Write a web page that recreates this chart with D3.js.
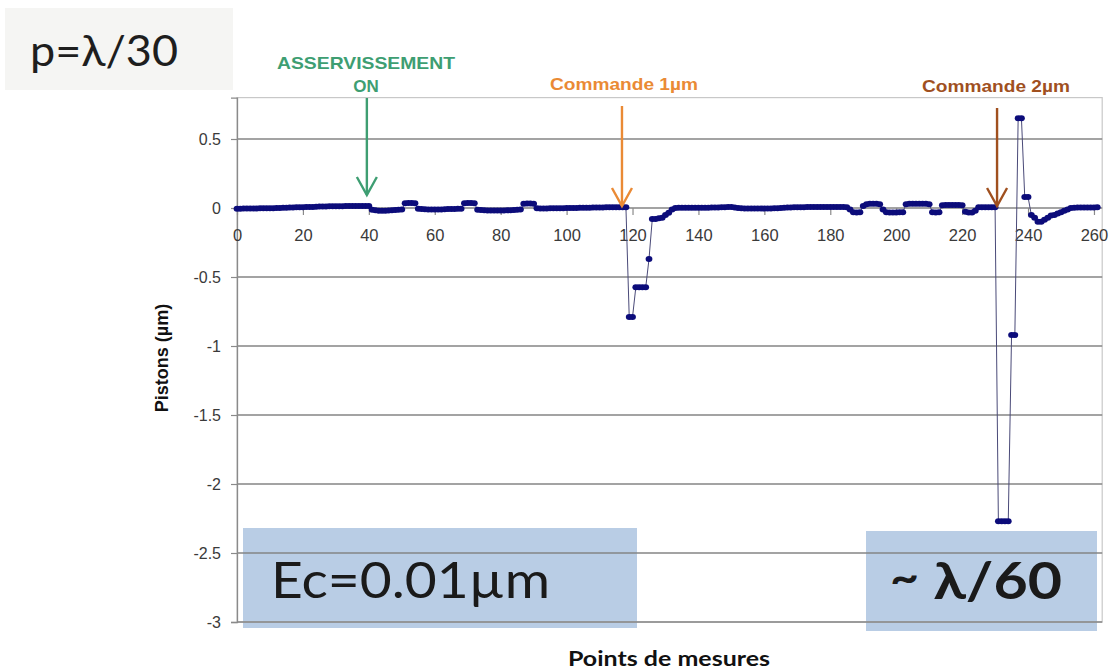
<!DOCTYPE html>
<html><head><meta charset="utf-8">
<script src="https://cdn.jsdelivr.net/npm/d3@7"></script>
<style>body{margin:0;background:#fff;} svg{display:block;}</style>
</head><body><svg id="c" width="1116" height="671"></svg>
<script>
// Piston values (µm) at each measurement point 0..261
const pistonValues = [
 -0.005,-0.005,-0.004,-0.004,-0.003,-0.003,-0.003,-0.002,-0.002,-0.002,
 -0.001,-0.001,0,0,0.001,0.002,0.003,0.004,0.005,0.005,
 0.006,0.007,0.008,0.008,0.009,0.010,0.010,0.011,0.012,0.012,
 0.013,0.013,0.013,0.014,0.014,0.014,0.015,0.015,0.015,0.015,
 0.015,-0.012,-0.017,-0.02,-0.02,-0.02,-0.018,-0.016,-0.015,-0.012,
 -0.01,0.035,0.036,0.036,0.035,-0.005,-0.008,-0.009,-0.01,-0.01,
 -0.01,-0.01,-0.01,-0.009,-0.008,-0.008,-0.007,-0.006,-0.005,0.035,
 0.036,0.036,0.034,-0.012,-0.015,-0.017,-0.018,-0.018,-0.018,-0.018,
 -0.018,-0.018,-0.017,-0.016,-0.015,-0.013,-0.01,0.03,0.032,0.032,
 0.03,-0.002,-0.003,-0.003,-0.003,-0.002,-0.002,-0.002,-0.001,-0.001,
 0,0,0,0,0.001,0.001,0.002,0.002,0.003,0.003,
 0.004,0.004,0.005,0.005,0.006,0.006,0.006,0.006,0.005,-0.79,
 -0.79,-0.575,-0.575,-0.575,-0.575,-0.37,-0.08,-0.08,-0.075,-0.07,
 -0.05,-0.035,-0.01,0,0.002,0.002,0.002,0.002,0.002,0.002,
 0.002,0.002,0.002,0.002,0.003,0.003,0.004,0.005,0.006,0.007,
 0.008,0.004,0,-0.002,-0.003,-0.004,-0.004,-0.004,-0.004,-0.004,
 -0.004,-0.003,-0.003,-0.002,-0.001,0,0.002,0.003,0.004,0.005,
 0.005,0.006,0.006,0.007,0.007,0.007,0.007,0.007,0.007,0.007,
 0.007,0.007,0.007,0.007,0.007,0.006,-0.01,-0.03,-0.032,-0.03,
 0.015,0.028,0.03,0.03,0.03,0.028,-0.01,-0.03,-0.032,-0.032,
 -0.032,-0.03,-0.03,0.027,0.03,0.03,0.03,0.03,0.03,0.03,
 0.028,-0.03,-0.032,-0.03,0.02,0.022,0.022,0.022,0.022,0.022,
 0.02,-0.028,-0.032,-0.032,-0.02,0.005,0.006,0.006,0.006,0.006,
 0.006,-2.27,-2.27,-2.27,-2.27,-0.92,-0.92,0.65,0.65,0.08,
 0.08,-0.05,-0.07,-0.1,-0.1,-0.085,-0.07,-0.055,-0.05,-0.04,
 -0.03,-0.02,-0.01,0,0.002,0.003,0.003,0.003,0.003,0.003,
 0.004,0.005
];
const measurePoints = d3.range(pistonValues.length);
const xTickValues = [0,20,40,60,80,100,120,140,160,180,200,220,240,260];
const yTickValues = [-3,-2.5,-2,-1.5,-1,-0.5,0,0.5];
const eventAt = [39.4, 116.8, 230.6];
const eventText = [["ASSERVISSEMENT","ON"],["Commande 1µm"],["Commande 2µm"]];
const eventColors = ["#3e9e72","#ea8a35","#a0501f"];
const xTitle = "Points de mesures";
const yTitle = "Pistons (µm)";
const stepLabel = "p=λ/30";
const stdLabel = "Ec=0.01µm";
const ratioLabel = ["~", " λ/60"];

const svg = d3.select("#c");
const x = d3.scaleLinear().domain([0, 262.5]).range([237, 237 + 262.5*3.296]);
const y = d3.scaleLinear().domain([-3, 0.8]).range([622, 622 - 3.8*138]);
const X0 = x(0), X1 = x(262.5), Y0 = y(-3), Y1 = y(0.8);
const SANS = "Arial, 'Liberation Sans', sans-serif";
const CAL = "Lato, 'Open Sans', sans-serif";

// top-left grey label box
svg.append("rect").attr("x",5).attr("y",8).attr("width",228).attr("height",82).attr("fill","#f5f5f3");
svg.append("text").attr("x",30).attr("y",66).attr("font-family",CAL)
  .attr("font-size",42).attr("fill","#1e1e1e").attr("textLength",148).attr("lengthAdjust","spacingAndGlyphs").text(stepLabel);

// blue boxes (below grid)
svg.append("rect").attr("x",243).attr("y",528).attr("width",394).attr("height",100).attr("fill","#b9cde5");
svg.append("rect").attr("x",866).attr("y",531).attr("width",231).attr("height",100).attr("fill","#b9cde5");

// plot frame
svg.append("rect").attr("x",X0).attr("y",Y1).attr("width",X1-X0).attr("height",Y0-Y1)
  .attr("fill","none").attr("stroke","#c8c8c8").attr("stroke-width",1.2);

// grid
svg.append("g").selectAll("line").data(yTickValues).join("line")
  .attr("x1",X0).attr("x2",X1).attr("y1",d=>y(d)).attr("y2",d=>y(d))
  .attr("stroke","#858585").attr("stroke-width",1.4);

// y axis
const yAxis = svg.append("g").attr("transform",`translate(${X0},0)`)
  .call(d3.axisLeft(y).tickValues(yTickValues).tickSize(6).tickPadding(10).tickFormat(d=>String(d)));
yAxis.select(".domain").attr("stroke","#8a8a8a").attr("stroke-width",1.3);
yAxis.selectAll(".tick line").attr("stroke","#8a8a8a").attr("stroke-width",1.2);
yAxis.selectAll("text").attr("font-family",SANS).attr("font-size",16).attr("fill","#3a3a3a");

// x axis at y=0
const xAxis = svg.append("g").attr("transform",`translate(0,${y(0)})`)
  .call(d3.axisBottom(x).tickValues(xTickValues).tickSize(7).tickPadding(14).tickFormat(d=>String(d)));
xAxis.select(".domain").remove();
xAxis.selectAll(".tick line").attr("stroke","#8a8a8a").attr("stroke-width",1.2);
xAxis.selectAll("text").attr("font-family",SANS).attr("font-size",16.5).attr("fill","#3a3a3a");

// series
const line = d3.line().x((d,i)=>x(measurePoints[i])).y(d=>y(d));
svg.append("path").datum(pistonValues).attr("d",line).attr("fill","none")
  .attr("stroke","#4a4a78").attr("stroke-width",1);
svg.append("g").selectAll("ellipse").data(pistonValues).join("ellipse")
  .attr("cx",(d,i)=>x(measurePoints[i])).attr("cy",d=>y(d)).attr("rx",3.4).attr("ry",3)
  .attr("fill","#0c0c7a");

// event arrows & labels
const arrowTop = [98, 106, 108];
const labelY = [[69,92],[90],[92]];
const labelX = [366, 624, 996];
const labelW = [[178,null],[148],[148]];
eventAt.forEach((ev,k)=>{
  const ax = x(ev), tip = y(0) - (k===0?13:2);
  const g = svg.append("g").attr("stroke",eventColors[k]).attr("fill","none").attr("stroke-width",2.4);
  g.append("line").attr("x1",ax).attr("x2",ax).attr("y1",arrowTop[k]).attr("y2",tip);
  g.append("path").attr("d",`M${ax-10},${tip-18}L${ax},${tip}L${ax+10},${tip-18}`);
  eventText[k].forEach((t,j)=>{
    const tx = svg.append("text").attr("x",labelX[k]).attr("y",labelY[k][j])
      .attr("text-anchor","middle").attr("font-family",SANS)
      .attr("font-weight","bold").attr("font-size",17).attr("fill",eventColors[k]).text(t);
    if (labelW[k][j]) tx.attr("textLength",labelW[k][j]).attr("lengthAdjust","spacingAndGlyphs");
  });
});

// axis titles
svg.append("text").attr("transform","translate(168,358) rotate(-90)").attr("text-anchor","middle")
  .attr("font-family",SANS).attr("font-weight","bold").attr("font-size",18)
  .attr("fill","#111").text(yTitle);
svg.append("text").attr("x",669).attr("y",666).attr("text-anchor","middle")
  .attr("font-family",CAL).attr("font-weight","bold").attr("font-size",20)
  .attr("fill","#111").attr("textLength",202).attr("lengthAdjust","spacingAndGlyphs").text(xTitle);

// box texts
svg.append("text").attr("x",271).attr("y",598).attr("font-family",CAL)
  .attr("font-size",50).attr("fill","#1a1a1a").attr("textLength",279).attr("lengthAdjust","spacingAndGlyphs").text(stdLabel);
const rt = svg.append("text").attr("x",890).attr("y",599).attr("font-family",CAL)
  .attr("font-weight","bold").attr("fill","#1a1a1a").attr("textLength",172).attr("lengthAdjust","spacingAndGlyphs");
rt.append("tspan").attr("font-size",44).attr("dy",-6).text(ratioLabel[0]);
rt.append("tspan").attr("font-size",52).attr("dy",6).text(ratioLabel[1]);
</script>
</body></html>
